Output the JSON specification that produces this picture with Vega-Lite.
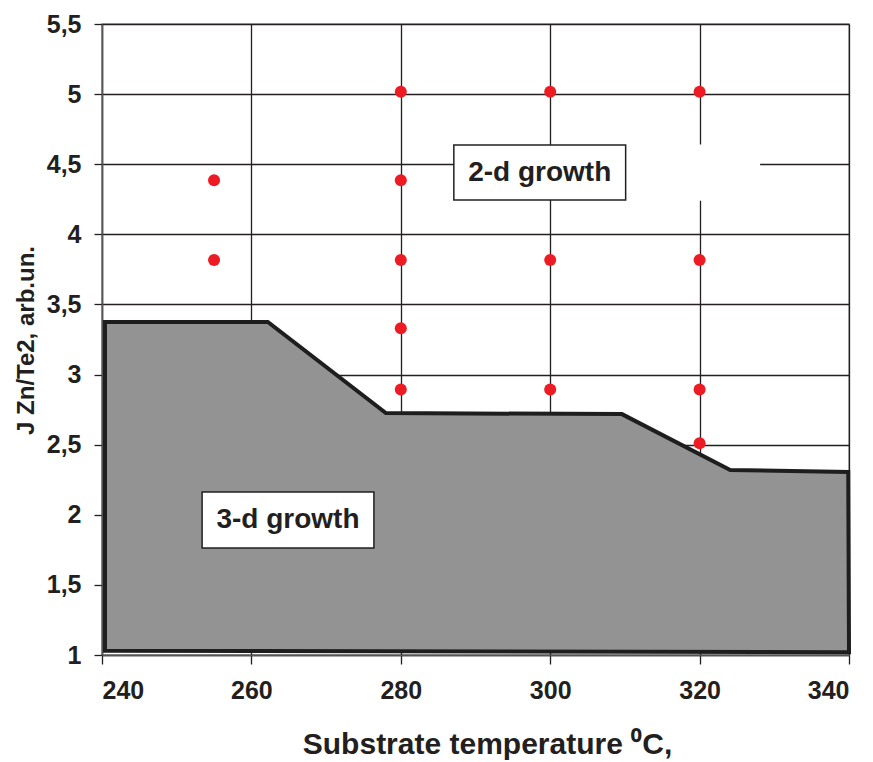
{
  "$schema": "https://vega.github.io/schema/vega-lite/v6.json",
  "autosize": {"type": "none"},
  "padding": {"left": 102, "top": 24, "right": 24, "bottom": 107},
  "width": 747,
  "height": 631,
  "background": "white",
  "config": {
    "view": {"stroke": "#9a9a9a", "strokeWidth": 1.5},
    "axis": {
      "labelFont": "Liberation Sans",
      "labelFontWeight": "bold",
      "labelFontSize": 25,
      "labelColor": "#231f20",
      "titleFont": "Liberation Sans",
      "titleFontWeight": "bold",
      "titleColor": "#231f20",
      "gridColor": "#231f20",
      "gridOpacity": 1,
      "gridWidth": 1.3,
      "domainColor": "#555555",
      "domainWidth": 1.6,
      "tickColor": "#231f20",
      "tickWidth": 1.3
    }
  },
  "datasets": {
    "poly": [
      {"t": 240.4, "j": 1.03, "k": 1},
      {"t": 240.4, "j": 3.375, "k": 2},
      {"t": 262.2, "j": 3.375, "k": 3},
      {"t": 278.0, "j": 2.725, "k": 4},
      {"t": 309.6, "j": 2.718, "k": 5},
      {"t": 324.1, "j": 2.32, "k": 6},
      {"t": 339.9, "j": 2.305, "k": 7},
      {"t": 340.0, "j": 1.02, "k": 8}
    ],
    "pts": [
      {"t": 255, "j": 4.385},
      {"t": 255, "j": 3.817},
      {"t": 280, "j": 5.017},
      {"t": 280, "j": 4.385},
      {"t": 280, "j": 3.817},
      {"t": 280, "j": 3.33},
      {"t": 280, "j": 2.893},
      {"t": 300, "j": 5.017},
      {"t": 300, "j": 3.817},
      {"t": 300, "j": 2.893},
      {"t": 320, "j": 5.017},
      {"t": 320, "j": 3.817},
      {"t": 320, "j": 2.893},
      {"t": 320, "j": 2.51}
    ],
    "boxes": [
      {"label": "2-d growth", "x1": 287.1, "x2": 310.1, "y1": 4.245, "y2": 4.637, "tx": 298.6, "ty": 4.44},
      {"label": "3-d growth", "x1": 253.4, "x2": 276.4, "y1": 1.763, "y2": 2.162, "tx": 264.9, "ty": 1.96}
    ],
    "blank": [
      {"x1": 310.1, "x2": 328.1, "y1": 4.24, "y2": 4.64}
    ]
  },
  "layer": [
    {
      "data": {"name": "blank"},
      "mark": {"type": "rect", "fill": "white", "strokeWidth": 0},
      "encoding": {
        "x": {"field": "x1", "type": "quantitative", "scale": {"domain": [240, 340], "nice": false, "zero": false},
          "axis": {"values": [240, 260, 280, 300, 320, 340], "tickSize": 9, "labelPadding": 14,
            "title": "Substrate temperature ⁰C,", "titleFontSize": 30, "titleX": 385, "titleY": 89, "titleBaseline": "middle", "titleAlign": "center"}},
        "x2": {"field": "x2"},
        "y": {"field": "y1", "type": "quantitative", "scale": {"domain": [1, 5.5], "nice": false, "zero": false},
          "axis": {"values": [1, 1.5, 2, 2.5, 3, 3.5, 4, 4.5, 5, 5.5], "tickSize": 8, "labelPadding": 13,
            "labelExpr": "replace(format(datum.value, ''), '.', ',')",
            "title": "J Zn/Te2, arb.un.", "titleFontSize": 24, "titleX": -76, "titleY": 316, "titleBaseline": "middle", "titleAlign": "center", "titleAngle": 270}},
        "y2": {"field": "y2"}
      }
    },
    {
      "data": {"name": "poly"},
      "mark": {"type": "line", "interpolate": "linear-closed", "fill": "#939393", "stroke": "#1e1e1e", "strokeWidth": 4, "strokeJoin": "miter"},
      "encoding": {
        "x": {"field": "t", "type": "quantitative"},
        "y": {"field": "j", "type": "quantitative"},
        "order": {"field": "k", "type": "quantitative"}
      }
    },
    {
      "data": {"name": "pts"},
      "mark": {"type": "circle", "size": 145, "color": "#ed1c24", "opacity": 1},
      "encoding": {
        "x": {"field": "t", "type": "quantitative"},
        "y": {"field": "j", "type": "quantitative"}
      }
    },
    {
      "data": {"name": "boxes"},
      "mark": {"type": "rect", "fill": "white", "stroke": "#231f20", "strokeWidth": 1.5},
      "encoding": {
        "x": {"field": "x1", "type": "quantitative"},
        "x2": {"field": "x2"},
        "y": {"field": "y1", "type": "quantitative"},
        "y2": {"field": "y2"}
      }
    },
    {
      "data": {"name": "boxes"},
      "mark": {"type": "text", "font": "Liberation Sans", "fontWeight": "bold", "fontSize": 28, "color": "#231f20", "align": "center", "baseline": "middle"},
      "encoding": {
        "x": {"field": "tx", "type": "quantitative"},
        "y": {"field": "ty", "type": "quantitative"},
        "text": {"field": "label"}
      }
    }
  ]
}
